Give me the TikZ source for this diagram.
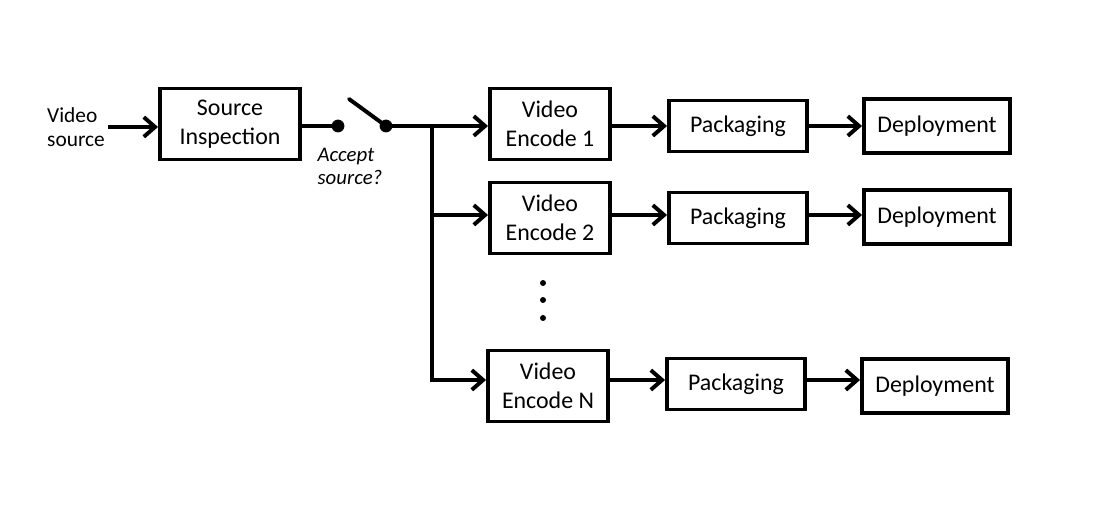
\documentclass[tikz,border=0pt]{standalone}
\usepackage{fontspec}
\setmainfont{Carlito}
\usetikzlibrary{arrows.meta}

\tikzset{
	block/.style={draw, line width=2.8pt, align=center, inner sep=0pt,
		font=\fontsize{17}{20.6}\selectfont},
	encbox/.style={block, minimum width=3cm, minimum height=1.775cm},
	packbox/.style={block, minimum width=3.45cm, minimum height=1.275cm},
	depbox/.style={block, minimum width=3.65cm, minimum height=1.35cm},
	contact/.style={circle, fill, inner sep=0pt, minimum size=0.32cm}
}

\begin{document}
\begin{tikzpicture}[line width=2.8pt, >={Straight Barb[length=8pt, width=14pt]}]
		\useasboundingbox (0, 0) rectangle (27.4, 12.7);
		\node (vidsrc) [align=left, inner sep=1pt, font=\fontsize{15.2}{17.5}\selectfont] at (1.9, 9.525) {Video\\source};
		\node (inspect) [block, minimum width=3.5cm, minimum height=1.775cm] at (5.75, 9.6) {Source\\Inspection};
		\node (cont1) [contact] at (8.45, 9.55) {};
		\node (cont2) [contact] at (9.65, 9.55) {};
		\coordinate (blade) at (8.725, 10.225);
		\node (accept) [align=left, font=\fontsize{14.8}{16.4}\selectfont\itshape] at (8.75, 8.55) {Accept\\source?};
		\coordinate (split) at (10.8, 9.55);
		\coordinate (row2) at (10.8, 7.325);
		\coordinate (rowN) at (10.8, 3.2);
		% encoders
		\node (enc1) [encbox] at (13.75, 9.6) {Video\\Encode 1};
		\node (enc2) [encbox] at (13.75, 7.25) {Video\\Encode 2};
		\node (encN) [encbox] at (13.7, 3.05) {Video\\Encode N};
		\fill (13.575, 5.625) circle (0.075);
		\fill (13.575, 5.2) circle (0.075);
		\fill (13.575, 4.75) circle (0.075);
		% packaging and deployment
		\node (pack1) [packbox] at (18.45, 9.55) {Packaging};
		\node (pack2) [packbox] at (18.45, 7.25) {Packaging};
		\node (packN) [packbox] at (18.4, 3.1) {Packaging};
		\node (dep1) [depbox] at (23.425, 9.55) {Deployment};
		\node (dep2) [depbox] at (23.425, 7.275) {Deployment};
		\node (depN) [depbox] at (23.375, 3.05) {Deployment};
		% connectors
		\draw [->] (vidsrc.east) -- (inspect.west |- vidsrc.east);
		\draw (inspect.east |- cont1) -- (cont1.center);
		\draw [line cap=round] (cont2.center) -- (blade);
		\draw [->] (cont2.center) -- (enc1.west |- split);
		\draw [->] (split) |- (encN.west |- rowN);
		\draw [->] (row2) -- (enc2.west |- row2);
		\draw [->] (enc1.east |- split) -- (pack1.west |- split);
		\draw [->] (enc2.east |- row2) -- (pack2.west |- row2);
		\draw [->] (encN.east |- rowN) -- (packN.west |- rowN);
		\draw [->] (pack1.east |- split) -- (dep1.west |- split);
		\draw [->] (pack2.east |- row2) -- (dep2.west |- row2);
		\draw [->] (packN.east |- rowN) -- (depN.west |- rowN);
	\end{tikzpicture}
\end{document}
